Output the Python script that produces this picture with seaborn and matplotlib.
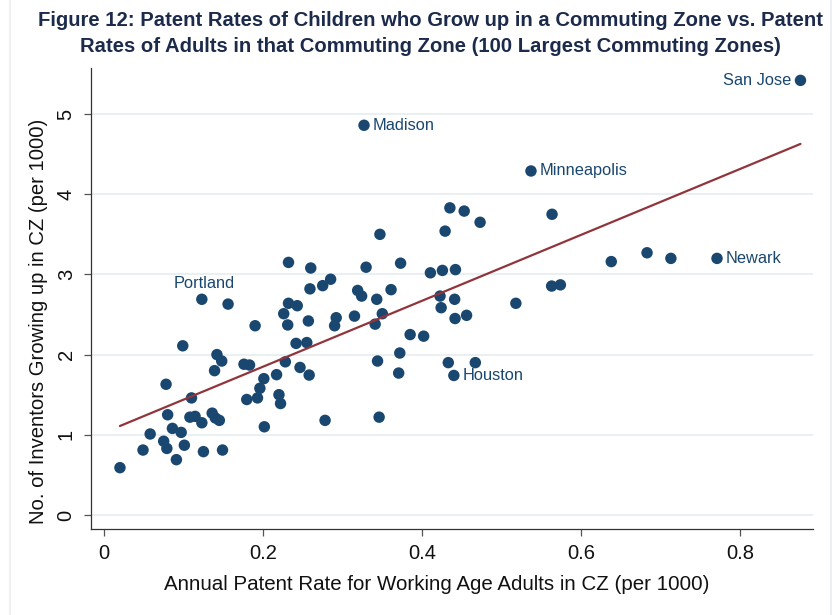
import numpy as np
import pandas as pd
import matplotlib
matplotlib.use("Agg")
import matplotlib.pyplot as plt
import seaborn as sns

# Annual patent rate of working-age adults in each commuting zone (per 1000)
adult_rate = [
    0.232, 0.260, 0.285, 0.275, 0.259, 0.123, 0.156, 0.232, 0.243, 0.226,
    0.190, 0.231, 0.257, 0.292, 0.290, 0.2415, 0.255, 0.099, 0.142, 0.148,
    0.139, 0.176, 0.183, 0.228, 0.2465, 0.258, 0.217, 0.201, 0.078, 0.110,
    0.196, 0.193, 0.1795, 0.220, 0.222, 0.080, 0.108, 0.1145, 0.123, 0.136,
    0.140, 0.145, 0.2016, 0.278, 0.086, 0.097, 0.058, 0.075, 0.079, 0.101,
    0.049, 0.091, 0.125, 0.149, 0.020, 0.435, 0.453, 0.473, 0.5635, 0.347,
    0.429, 0.3296, 0.373, 0.4105, 0.4256, 0.442, 0.319, 0.324, 0.361, 0.343,
    0.4226, 0.441, 0.424, 0.563, 0.574, 0.518, 0.315, 0.350, 0.341, 0.4415,
    0.456, 0.385, 0.402, 0.372, 0.344, 0.433, 0.467, 0.3706, 0.440, 0.346,
    0.876, 0.327, 0.537, 0.638, 0.683, 0.713, 0.771,
]

# Inventors among children who grew up in the same commuting zone (per 1000)
child_rate = [
    3.15, 3.08, 2.94, 2.86, 2.82, 2.69, 2.63, 2.64, 2.61, 2.51,
    2.36, 2.37, 2.42, 2.46, 2.36, 2.14, 2.15, 2.11, 2.00, 1.92,
    1.80, 1.88, 1.87, 1.91, 1.84, 1.745, 1.75, 1.70, 1.63, 1.46,
    1.58, 1.46, 1.44, 1.50, 1.39, 1.25, 1.22, 1.23, 1.15, 1.27,
    1.21, 1.18, 1.10, 1.18, 1.08, 1.03, 1.01, 0.92, 0.83, 0.87,
    0.81, 0.69, 0.79, 0.81, 0.59, 3.83, 3.79, 3.65, 3.75, 3.50,
    3.54, 3.09, 3.14, 3.02, 3.05, 3.06, 2.80, 2.73, 2.81, 2.69,
    2.73, 2.69, 2.585, 2.855, 2.87, 2.64, 2.48, 2.51, 2.38, 2.45,
    2.49, 2.25, 2.23, 2.02, 1.92, 1.90, 1.90, 1.77, 1.74, 1.22,
    5.42, 4.86, 4.29, 3.16, 3.27, 3.20, 3.20,
]

# Named commuting zones: (name, index into the arrays, label side)
named_zones = [
    ("Portland", 5, "top"),
    ("Houston", 88, "right"),
    ("San Jose", 90, "left"),
    ("Madison", 91, "right"),
    ("Minneapolis", 92, "right"),
    ("Newark", 96, "right"),
]

x_ticks = [0, 0.2, 0.4, 0.6, 0.8]
x_tick_labels = ["0", "0.2", "0.4", "0.6", "0.8"]
y_ticks = [0, 1, 2, 3, 4, 5]

df = pd.DataFrame({"adult": adult_rate, "child": child_rate})

sns.set_theme(style="white")
plt.rcParams["font.family"] = ["Liberation Sans", "DejaVu Sans"]

NAVY = "#1a476f"
MAROON = "#90353b"
GRID = "#e6eef0"

fig = plt.figure(figsize=(8.35, 6.15), dpi=100)
ax = fig.add_axes([0.109, 0.1398, 0.9737 - 0.109, 0.8894 - 0.1398])

sns.regplot(
    data=df, x="adult", y="child", ax=ax, ci=None,
    scatter_kws=dict(s=68, color=NAVY, edgecolor="none", alpha=1, zorder=3),
    line_kws=dict(color=MAROON, lw=1.6, zorder=4),
)

ax.set_xlim(-0.0164, 0.8918)
ax.set_ylim(-0.175, 5.574)
ax.set_xticks(x_ticks)
ax.set_xticklabels(x_tick_labels)
ax.set_yticks(y_ticks)
ax.set_yticklabels([str(v) for v in y_ticks], rotation=90, va="center")

ax.yaxis.grid(True, color=GRID, lw=1.2, zorder=0)
ax.xaxis.grid(False)
ax.set_axisbelow(True)

for side in ["top", "right"]:
    ax.spines[side].set_visible(False)
for side in ["left", "bottom"]:
    ax.spines[side].set_visible(True)
    ax.spines[side].set_color("#333333")
    ax.spines[side].set_linewidth(0.9)

ax.tick_params(axis="both", which="major", direction="out", length=5,
               width=0.9, color="#555555", labelsize=14.5, labelcolor="#111111",
               bottom=True, left=True, pad=6)

ax.set_xlabel("Annual Patent Rate for Working Age Adults in CZ (per 1000)",
              fontsize=14.8, color="#111111", va="center")
ax.set_ylabel("No. of Inventors Growing up in CZ (per 1000)",
              fontsize=14.6, color="#111111", va="center")
ax.xaxis.set_label_coords(0.479, -0.121)
ax.yaxis.set_label_coords(-0.0734, 0.451)

for name, idx, side in named_zones:
    px, py = adult_rate[idx], child_rate[idx]
    if side == "right":
        off, ha, va = (6.5, 0), "left", "center"
    elif side == "left":
        off, ha, va = (-6.5, 0), "right", "center"
    else:
        off, ha, va = (2, 6), "center", "bottom"
    ax.annotate(name, (px, py), xytext=off, textcoords="offset points",
                ha=ha, va=va, fontsize=11.8, color=NAVY, zorder=5)

fig.text(0.515, 0.982,
         "Figure 12: Patent Rates of Children who Grow up in a Commuting Zone vs. Patent\n"
         "Rates of Adults in that Commuting Zone (100 Largest Commuting Zones)",
         ha="center", va="top", fontsize=14.6, fontweight="bold",
         color="#1c2b4b", linespacing=1.48)

# light outer frame of the graph region
frame = plt.Rectangle((9.5 / 835, -0.01), (831 - 9.5) / 835, 1.02,
                      transform=fig.transFigure, fill=False,
                      edgecolor="#e9eef1", lw=1.2)
fig.add_artist(frame)

fig.savefig("out.png", dpi=100)
